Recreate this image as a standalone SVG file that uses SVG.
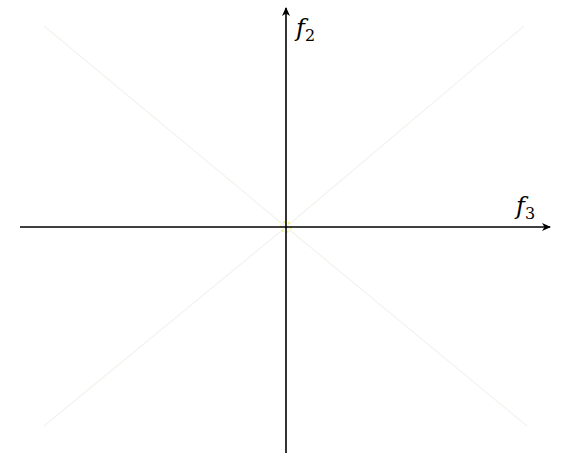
<svg xmlns="http://www.w3.org/2000/svg" width="562" height="455" viewBox="0 0 562 455">
<style>
.ax{stroke:#000;stroke-width:1.6;fill:none}
.diag{stroke:#f3f3ee;stroke-width:1.2}
</style>
<defs>
<marker id="ah" markerWidth="10" markerHeight="8" refX="8" refY="4" orient="auto" markerUnits="userSpaceOnUse">
<path d="M0,0 L9,4 L0,8 L2.5,4 Z" fill="#000"/>
</marker>
</defs>
<rect width="562" height="455" fill="#fff"/>
<g id="diagonals">
<line class="diag" x1="44" y1="26" x2="286" y2="227"/>
<line class="diag" x1="524" y1="26" x2="286" y2="227"/>
<line class="diag" x1="44" y1="426" x2="286" y2="227"/>
<line class="diag" x1="527" y1="426" x2="286" y2="227"/>
<circle cx="286" cy="227" r="5" fill="none" stroke="#f0f060" stroke-width="1.5" stroke-dasharray="2 3"/>
</g>
<g id="connectors">
<line class="ax" x1="20" y1="227" x2="550" y2="227" marker-end="url(#ah)"/>
<line class="ax" x1="286" y1="453" x2="286" y2="8" marker-end="url(#ah)"/>
</g>
<g id="label-f2">
<text x="296" y="36" font-family="'DejaVu Serif', 'Liberation Serif', serif" font-size="24" font-style="italic" fill="#000">f<tspan font-style="normal" font-size="16" dy="5">2</tspan></text>
</g>
<g id="label-f3">
<text x="516" y="214" font-family="'DejaVu Serif', 'Liberation Serif', serif" font-size="24" font-style="italic" fill="#000">f<tspan font-style="normal" font-size="16" dy="5">3</tspan></text>
</g>
</svg>
